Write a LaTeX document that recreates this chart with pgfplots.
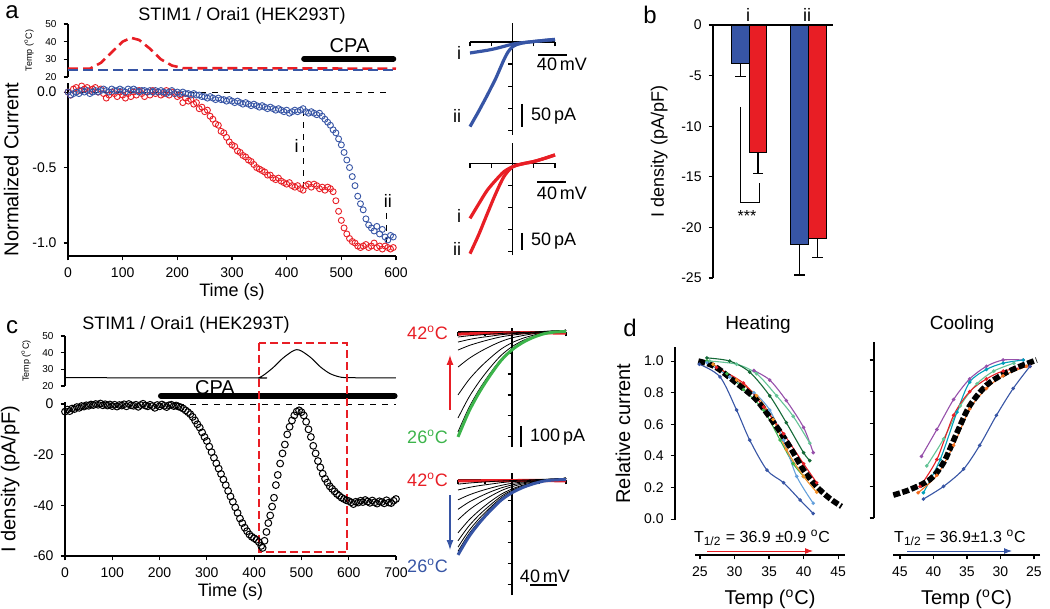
\documentclass[border=0pt]{standalone}
\usepackage{fontspec}
\setmainfont{Liberation Sans}
\usepackage{pgfplots}
\pgfplotsset{compat=1.18}
\usetikzlibrary{arrows.meta}
\newcommand{\fs}[1]{\fontsize{#1}{#1}\selectfont}
\definecolor{rd}{RGB}{232,30,37}
\definecolor{bl}{RGB}{55,85,165}
\definecolor{gr}{RGB}{60,180,75}
\definecolor{dgreen}{RGB}{20,105,55}
\definecolor{purp}{RGB}{150,80,170}
\definecolor{aqua}{RGB}{100,195,150}
\definecolor{org}{RGB}{245,145,40}
\definecolor{lblue}{RGB}{100,160,220}
\definecolor{teal2}{RGB}{0,160,185}
\definecolor{org2}{RGB}{245,110,30}
\pgfplotsset{
 base/.style={scale only axis, enlargelimits=false, clip=false,
   axis line style={line width=0.6pt}, tick style={black, line width=0.55pt},
   major tick length=2.2pt, tick align=outside,
   tick label style={font=\fs{7}}, label style={font=\fs{9}},
   /pgf/number format/assume math mode=true},
 iv/.style={base, axis lines*=middle, xmin=-100, xmax=100, width=42.5pt,
   xtick={-100,-50,50,100}, xticklabels={}, yticklabels={}},
 tempax/.style={base, axis x line=none, axis y line*=left, ymin=20, ymax=50,
   ytick={20,30,40,50}, tick label style={font=\fs{5}},
   ylabel={Temp (\textsuperscript{o}C)}, ylabel style={font=\fs{4.5}}, ylabel shift=-1pt},
 hc/.style={smooth, line width=0.55pt, mark=*, mark size=0.6pt},
}
\begin{document}
\begin{tikzpicture}
\useasboundingbox (0,0) rectangle (525pt,-304.5pt);

% ---------------- panel a: temperature ----------------
\begin{axis}[tempax, at={(34pt,-38.5pt)}, anchor=south west, width=164pt, height=26.5pt,
  xmin=0, xmax=600]
\addplot[rd, line width=1.3pt, dash pattern=on 5pt off 2.5pt] coordinates {
 (0,24.7)(40,24.7)(60,28)(80,34)(100,40)(115,42.2)(130,41)(150,36)(170,30)(190,26.5)(210,25)(600,24.7)};
\addplot[bl, line width=1.3pt, dash pattern=on 5pt off 2.5pt] coordinates {(0,23.9)(600,23.9)};
\draw[line width=3pt, line cap=round] (axis cs:432,30.3) -- (axis cs:595,30.3);
\node[font=\fs{10}] at (axis cs:515,38) {CPA};
\end{axis}

% ---------------- panel a: normalized current ----------------
\begin{axis}[base, at={(34pt,-128pt)}, anchor=south west, width=164pt, height=86.5pt,
  xmin=0, xmax=600, ymin=-1.086, ymax=0.06, axis lines*=left,
  xtick={0,100,...,600}, ytick={-1,-0.5,0}, yticklabels={-1.0,-0.5,0.0},
  xlabel={Time (s)}, ylabel={Normalized Current}, xlabel shift=-4pt, ylabel style={font=\fs{10}}]
\draw[dashed, line width=0.5pt] (axis cs:0,0) -- (axis cs:590,0);
\addplot[rd, only marks, mark=o, mark size=1.5pt, mark options={line width=0.45pt}] coordinates {
(0,0.00)(5,-0.02)(10,0.02)(15,0.03)(20,0.01)(25,0.04)(30,0.02)(35,0.03)(40,0.01)(45,0.02)(50,0.03)(55,0.00)(60,0.02)(65,-0.01)(70,-0.04)(75,-0.02)(80,0.00)(85,-0.01)(90,-0.03)(95,0.00)(100,-0.02)(105,-0.04)(110,-0.01)(115,-0.03)(120,0.00)(125,-0.02)(130,0.01)(135,-0.01)(140,-0.03)(145,0.00)(150,-0.02)(155,0.01)(160,-0.01)(165,0.00)(170,-0.02)(175,-0.01)(180,0.01)(185,-0.02)(190,0.00)(195,-0.01)(200,-0.03)(205,-0.02)(210,-0.07)(215,-0.04)(220,-0.06)(225,-0.05)(230,-0.08)(235,-0.07)(240,-0.11)(245,-0.10)(250,-0.13)(255,-0.12)(260,-0.16)(265,-0.18)(270,-0.21)(275,-0.22)(280,-0.26)(285,-0.27)(290,-0.30)(295,-0.33)(300,-0.35)(305,-0.36)(310,-0.39)(315,-0.40)(320,-0.42)(325,-0.43)(330,-0.45)(335,-0.46)(340,-0.48)(345,-0.50)(350,-0.51)(355,-0.52)(360,-0.53)(365,-0.55)(370,-0.55)(375,-0.57)(380,-0.58)(385,-0.57)(390,-0.59)(395,-0.60)(400,-0.61)(405,-0.60)(410,-0.62)(415,-0.63)(420,-0.62)(425,-0.64)(430,-0.65)(435,-0.62)(440,-0.61)(445,-0.63)(450,-0.61)(455,-0.62)(460,-0.64)(465,-0.63)(470,-0.65)(475,-0.63)(480,-0.64)(485,-0.66)(490,-0.72)(495,-0.79)(500,-0.85)(505,-0.90)(510,-0.94)(515,-0.97)(520,-0.99)(525,-1.00)(530,-1.02)(535,-1.03)(540,-1.02)(545,-1.01)(550,-1.03)(555,-1.02)(560,-1.00)(565,-1.03)(570,-1.02)(575,-1.04)(580,-1.02)(585,-1.03)(590,-1.04)(595,-1.03)};
\addplot[bl, only marks, mark=o, mark size=1.5pt, mark options={line width=0.45pt}] coordinates {
(0,0.00)(5,-0.02)(10,-0.01)(15,0.00)(20,-0.01)(25,0.01)(30,0.00)(35,0.01)(40,-0.01)(45,0.00)(50,0.01)(55,0.00)(60,0.01)(65,0.02)(70,0.01)(75,0.00)(80,0.02)(85,0.01)(90,0.01)(95,0.02)(100,0.01)(105,0.00)(110,0.02)(115,0.01)(120,0.02)(125,0.01)(130,0.00)(135,0.01)(140,0.01)(145,0.00)(150,0.01)(155,0.00)(160,0.01)(165,0.00)(170,0.01)(175,0.00)(180,-0.01)(185,0.00)(190,0.01)(195,-0.01)(200,0.00)(205,-0.01)(210,0.00)(215,-0.01)(220,-0.01)(225,-0.02)(230,-0.01)(235,-0.02)(240,-0.02)(245,-0.03)(250,-0.03)(255,-0.04)(260,-0.03)(265,-0.04)(270,-0.05)(275,-0.04)(280,-0.05)(285,-0.05)(290,-0.06)(295,-0.05)(300,-0.06)(305,-0.07)(310,-0.06)(315,-0.07)(320,-0.08)(325,-0.07)(330,-0.08)(335,-0.09)(340,-0.08)(345,-0.09)(350,-0.10)(355,-0.09)(360,-0.10)(365,-0.11)(370,-0.10)(375,-0.11)(380,-0.12)(385,-0.11)(390,-0.12)(395,-0.13)(400,-0.12)(405,-0.14)(410,-0.13)(415,-0.12)(420,-0.13)(425,-0.12)(430,-0.11)(435,-0.13)(440,-0.14)(445,-0.13)(450,-0.14)(455,-0.15)(460,-0.14)(465,-0.16)(470,-0.18)(475,-0.20)(480,-0.22)(485,-0.25)(490,-0.27)(495,-0.31)(500,-0.35)(505,-0.40)(510,-0.45)(515,-0.50)(520,-0.56)(525,-0.62)(530,-0.69)(535,-0.74)(540,-0.78)(545,-0.84)(550,-0.88)(555,-0.90)(560,-0.92)(565,-0.89)(570,-0.94)(575,-0.91)(580,-0.96)(585,-0.98)(590,-0.95)(595,-0.96)};
\draw[dashed, line width=0.5pt] (axis cs:431,-0.12) -- (axis cs:431,-0.67);
\draw[dashed, line width=0.5pt] (axis cs:583,-0.80) -- (axis cs:583,-1.02);
\node[font=\fs{9}] at (axis cs:418,-0.36) {i};
\node[font=\fs{9}] at (axis cs:585,-0.72) {ii};
\end{axis}

% ---------------- panel a: I-V insets ----------------
\begin{axis}[iv, at={(235pt,-67.5pt)}, anchor=south west, height=56pt, ymin=-211, ymax=43,
  ytick={-50,-100,-150,-200}]
\addplot[bl, line width=1.6pt, smooth] coordinates {(-100,-25)(-80,-22)(-60,-19)(-40,-15)(-20,-10)(0,-5)(20,-2)(40,0)(60,2)(80,4)(100,6)};
\addplot[bl, line width=1.6pt, smooth] coordinates {(-100,-192)(-90,-175)(-80,-158)(-70,-140)(-60,-122)(-50,-103)(-40,-84)(-30,-62)(-20,-40)(-10,-22)(0,-11)(10,-6)(20,-3)(40,0)(60,2)(80,4)(100,5)};
\end{axis}
\begin{axis}[iv, at={(235pt,-127.5pt)}, anchor=south west, height=56pt, ymin=-208, ymax=46,
  ytick={-50,-100,-150,-200}]
\addplot[rd, line width=1.6pt, smooth] coordinates {(-100,-125)(-80,-93)(-60,-62)(-40,-39)(-20,-19)(0,-8)(20,-2)(50,4)(75,11)(100,19)};
\addplot[rd, line width=1.6pt, smooth] coordinates {(-100,-205)(-80,-163)(-60,-116)(-40,-70)(-20,-30)(0,-8)(20,-2)(50,4)(75,11)(100,19)};
\end{axis}

% ---------------- panel b ----------------
\begin{axis}[base, at={(356.5pt,-139pt)}, anchor=south west, width=60pt, height=126.5pt,
  xmin=0, xmax=120, ymin=-25, ymax=0, axis x line*=top, axis y line*=left, xtick=\empty,
  ytick={-25,-20,-15,-10,-5,0}, yticklabels={-25,-20,-15,-10,-5,0},
  ylabel={I density (pA/pF)}]
\addplot[ybar, bar width=17.5, bar shift=0pt, fill=bl, draw=black, line width=0.7pt,
  error bars/.cd, y dir=minus, y explicit, error bar style={line width=0.7pt, black},
  error mark options={rotate=90, mark size=2.6pt, line width=0.7pt, black}]
  coordinates {(27.5,-3.8) +- (0,1.3) (86.5,-21.7) +- (0,3.0)};
\addplot[ybar, bar width=17.5, bar shift=0pt, fill=rd, draw=black, line width=0.7pt,
  error bars/.cd, y dir=minus, y explicit, error bar style={line width=0.7pt, black},
  error mark options={rotate=90, mark size=2.6pt, line width=0.7pt, black}]
  coordinates {(45,-12.6) +- (0,2.1) (104.5,-21.1) +- (0,1.9)};
\draw[line width=0.5pt] (axis cs:27,-8.1) -- (axis cs:27,-17.5) -- (axis cs:46,-17.5) -- (axis cs:46,-15.6);
\node[font=\fs{8}] at (axis cs:34,-18.9) {***};
\node[font=\fs{9}] at (axis cs:35,1.0) {i};
\node[font=\fs{9}] at (axis cs:94,1.0) {ii};
\end{axis}

% ---------------- panel c: temperature ----------------
\begin{axis}[tempax, at={(32.5pt,-193pt)}, anchor=south west, width=165.5pt, height=25pt,
  xmin=0, xmax=700]
\addplot[black, line width=0.5pt, smooth] coordinates {
 (0,25)(400,24.8)(410,25)(420,26.5)(440,31)(460,36.5)(480,40.7)(490,41.8)(500,41)(520,37)(540,31.5)(560,27.5)(580,25.5)(600,25)(700,24.8)};
\end{axis}

% ---------------- panel c: current density ----------------
\begin{axis}[base, at={(32.5pt,-278pt)}, anchor=south west, width=165.5pt, height=77pt,
  xmin=0, xmax=700, ymin=-60, ymax=0.8, axis lines*=left,
  xtick={0,100,...,700}, ytick={-60,-40,-20,0},
  xlabel={Time (s)}, ylabel={I density (pA/pF)}, xlabel shift=-4pt, ylabel style={font=\fs{10}}]
\draw[line width=3pt, line cap=round] (axis cs:203,3.2) -- (axis cs:697,3.2);
\draw[dashed, line width=0.5pt] (axis cs:240,0) -- (axis cs:700,0);
\addplot[black, only marks, mark=o, mark size=1.7pt, mark options={line width=0.5pt}] coordinates {
(0,-3.0)(5,-2.2)(10,-2.8)(15,-1.8)(20,-2.0)(25,-1.2)(30,-1.5)(35,-0.8)(40,-1.0)(45,-0.5)(50,-0.7)(55,-0.2)(60,-0.4)(65,0.0)(70,-0.3)(75,0.2)(80,-0.5)(85,-0.1)(90,-0.6)(95,-0.2)(100,-0.8)(105,-0.3)(110,-1.0)(115,-0.4)(120,-0.6)(125,-0.1)(130,-0.9)(135,0.0)(140,-0.5)(145,-0.7)(150,-0.3)(155,-1.1)(160,-0.4)(165,0.1)(170,-0.6)(175,-0.9)(180,-0.3)(185,-0.8)(190,-1.5)(195,-0.4)(200,-0.9)(205,-0.2)(210,-0.7)(215,-1.2)(220,-0.5)(225,-0.3)(230,-0.8)(235,-0.6)(240,-1.0)(245,-1.3)(250,-1.8)(255,-2.5)(260,-3.2)(265,-4.0)(270,-5.1)(275,-6.5)(280,-8.0)(285,-9.3)(290,-11.2)(295,-13.0)(300,-14.6)(305,-16.8)(310,-19.0)(315,-21.2)(320,-23.4)(325,-25.5)(330,-27.6)(335,-29.8)(340,-32.0)(345,-34.3)(350,-36.5)(355,-38.6)(360,-40.8)(365,-43.0)(370,-45.2)(375,-47.0)(380,-48.8)(385,-50.2)(390,-51.5)(395,-52.4)(400,-53.0)(405,-53.6)(410,-54.5)(415,-56.0)(418,-56.8)(422,-54.0)(426,-50.5)(430,-47.0)(434,-44.0)(438,-40.5)(442,-37.0)(446,-32.0)(450,-28.0)(455,-23.5)(460,-19.5)(465,-16.0)(470,-12.0)(475,-9.0)(480,-6.5)(485,-4.5)(490,-3.0)(495,-2.5)(500,-3.2)(505,-4.5)(510,-7.0)(515,-10.0)(520,-13.0)(525,-16.5)(530,-19.5)(535,-22.5)(540,-25.0)(545,-27.5)(550,-29.5)(555,-31.0)(560,-32.5)(565,-33.5)(570,-34.5)(575,-35.5)(580,-36.2)(585,-37.0)(590,-37.5)(595,-38.0)(600,-38.3)(605,-38.8)(610,-39.5)(615,-38.6)(620,-38.9)(625,-38.2)(630,-38.7)(635,-37.9)(640,-38.5)(645,-39.0)(650,-38.1)(655,-38.8)(660,-39.3)(665,-38.4)(670,-38.7)(675,-39.2)(680,-38.0)(685,-38.9)(690,-39.1)(695,-38.2)(700,-37.5)};
\draw[rd, line width=1.1pt, dash pattern=on 4pt off 2pt] (axis cs:410,24.1) rectangle (axis cs:597,-58.5);
\end{axis}

% ---------------- panel c: I-V families ----------------
\begin{axis}[iv, at={(229pt,-223.5pt)}, anchor=south west, width=54pt, height=59.5pt,
  ymin=-548, ymax=19, ytick={-100,-200,-300,-400,-500}]
\addplot[rd, line width=1.5pt] coordinates {(-100,-10)(-60,-7)(-20,-5)(0,-4)(40,-3)(80,-5)(100,-6)};
\addplot[black, line width=0.4pt, smooth] coordinates {(-100,-24)(-80,-18)(-60,-14)(-40,-10)(-20,-7)(0,-4)(20,-2)(40,0)(60,3)(80,5)(100,8)};
\addplot[black, line width=0.4pt, smooth] coordinates {(-100,-48)(-80,-36)(-60,-27)(-40,-20)(-20,-13)(0,-8)(20,-5)(40,-1)(60,2)(80,5)(100,8)};
\addplot[black, line width=0.4pt, smooth] coordinates {(-100,-86)(-80,-65)(-60,-49)(-40,-35)(-20,-23)(0,-15)(20,-9)(40,-4)(60,2)(80,5)(100,8)};
\addplot[black, line width=0.4pt, smooth] coordinates {(-100,-167)(-80,-127)(-60,-95)(-40,-68)(-20,-45)(0,-28)(20,-17)(40,-8)(60,0)(80,4)(100,8)};
\addplot[black, line width=0.4pt, smooth] coordinates {(-100,-300)(-80,-228)(-60,-171)(-40,-123)(-20,-81)(0,-51)(20,-30)(40,-15)(60,-3)(80,3)(100,8)};
\addplot[black, line width=0.4pt, smooth] coordinates {(-100,-410)(-80,-312)(-60,-234)(-40,-168)(-20,-111)(0,-70)(20,-41)(40,-21)(60,-6)(80,2)(100,8)};
\addplot[black, line width=0.4pt, smooth] coordinates {(-100,-476)(-80,-362)(-60,-271)(-40,-195)(-20,-129)(0,-81)(20,-48)(40,-24)(60,-7)(80,2)(100,8)};
\addplot[gr, line width=1.5pt, smooth] coordinates {(-100,-500)(-80,-380)(-60,-285)(-40,-205)(-20,-135)(0,-85)(20,-50)(40,-25)(60,-8)(80,0)(100,2)};
\end{axis}
\begin{axis}[iv, at={(229pt,-297.5pt)}, anchor=south west, width=54pt, height=61pt,
  ymin=-548, ymax=33, ytick={-100,-200,-300,-400,-500}]
\addplot[rd, line width=1.5pt] coordinates {(-100,-5)(-60,-4)(-20,-3)(0,-3)(40,-2)(80,-4)(100,-5)};
\addplot[black, line width=0.4pt, smooth] coordinates {(-100,-20)(-80,-15)(-60,-11)(-40,-8)(-20,-5)(0,-3)(20,-1)(40,1)(60,3)(80,5)(100,8)};
\addplot[black, line width=0.4pt, smooth] coordinates {(-100,-48)(-80,-36)(-60,-27)(-40,-20)(-20,-13)(0,-8)(20,-5)(40,-1)(60,2)(80,5)(100,8)};
\addplot[black, line width=0.4pt, smooth] coordinates {(-100,-95)(-80,-72)(-60,-54)(-40,-39)(-20,-26)(0,-16)(20,-10)(40,-5)(60,1)(80,4)(100,8)};
\addplot[black, line width=0.4pt, smooth] coordinates {(-100,-140)(-80,-106)(-60,-80)(-40,-57)(-20,-38)(0,-24)(20,-14)(40,-7)(60,0)(80,4)(100,8)};
\addplot[black, line width=0.4pt, smooth] coordinates {(-100,-190)(-80,-144)(-60,-108)(-40,-78)(-20,-51)(0,-32)(20,-19)(40,-10)(60,-2)(80,3)(100,8)};
\addplot[black, line width=0.4pt, smooth] coordinates {(-100,-252)(-80,-192)(-60,-144)(-40,-103)(-20,-68)(0,-43)(20,-25)(40,-13)(60,-3)(80,3)(100,8)};
\addplot[black, line width=0.4pt, smooth] coordinates {(-100,-290)(-80,-220)(-60,-165)(-40,-119)(-20,-78)(0,-49)(20,-29)(40,-15)(60,-4)(80,2)(100,8)};
\addplot[black, line width=0.4pt, smooth] coordinates {(-100,-320)(-80,-243)(-60,-182)(-40,-131)(-20,-86)(0,-54)(20,-32)(40,-16)(60,-5)(80,2)(100,8)};
\addplot[black, line width=0.4pt, smooth] coordinates {(-100,-340)(-80,-258)(-60,-194)(-40,-139)(-20,-92)(0,-58)(20,-34)(40,-17)(60,-5)(80,2)(100,8)};
\addplot[bl, line width=1.5pt, smooth] coordinates {(-100,-357)(-80,-271)(-60,-203)(-40,-146)(-20,-96)(0,-61)(20,-36)(40,-18)(60,-5)(80,0)(100,2)};
\end{axis}

% ---------------- panel d: heating ----------------
\begin{axis}[base, at={(337.5pt,-260pt)}, anchor=south west, width=85pt, height=86.5pt,
  xmin=21.38, xmax=46.0, ymin=-0.006, ymax=1.089, axis x line=none, axis y line*=left,
  ytick={0,0.2,0.4,0.6,0.8,1.0}, yticklabels={0.0,0.2,0.4,0.6,0.8,1.0},
  ylabel={Relative current}, ylabel style={font=\fs{10}}]
\addplot[hc, purp] coordinates {(32.8,0.94)(35.1,0.88)(37.5,0.75)(40.0,0.58)(41.4,0.42)};
\addplot[hc, aqua] coordinates {(26.4,1.0)(30.3,0.98)(33.2,0.92)(36.1,0.78)(38.5,0.65)(40.9,0.48)};
\addplot[hc, dgreen] coordinates {(26.0,1.02)(29.3,1.0)(32.2,0.93)(35.1,0.78)(37.5,0.61)(40.0,0.42)(40.9,0.37)};
\addplot[hc, gr] coordinates {(26.0,1.0)(28.9,0.92)(31.3,0.82)(34.2,0.69)(36.6,0.50)(38.5,0.35)(40.0,0.27)};
\addplot[hc, lblue] coordinates {(26.0,0.99)(29.3,0.90)(32.8,0.80)(35.1,0.69)(37.1,0.50)(39.0,0.27)(41.4,0.10)};
\addplot[hc, org] coordinates {(26.9,0.98)(30.3,0.88)(33.2,0.78)(35.6,0.63)(37.5,0.44)(40.0,0.27)(41.9,0.17)};
\addplot[hc, rd] coordinates {(27.4,0.96)(31.3,0.86)(34.2,0.71)(37.1,0.54)(40.0,0.35)(41.9,0.23)};
\addplot[hc, bl] coordinates {(24.9,0.98)(27.9,0.90)(30.3,0.69)(32.2,0.50)(34.7,0.31)(37.1,0.23)(39.5,0.12)(41.4,0.035)};
\addplot[black, smooth, line width=2.8pt, dash pattern=on 3.5pt off 1.2pt] coordinates {
 (24.76,1.0)(27.2,0.964)(30.3,0.86)(33.2,0.753)(36.1,0.584)(38.0,0.458)(40.0,0.31)(41.9,0.205)(43.8,0.13)(45.5,0.08)};
\end{axis}
\begin{axis}[base, at={(347.5pt,-277.5pt)}, anchor=south west, width=75pt, height=1pt,
  xmin=24.28, xmax=46.0, ymin=0, ymax=1, axis y line=none, axis x line*=bottom,
  xtick={25,30,35,40,45}, xlabel={Temp (\textsuperscript{o}C)}, xlabel style={font=\fs{10}}]
\end{axis}

% ---------------- panel d: cooling ----------------
\begin{axis}[base, at={(437pt,-259pt)}, anchor=south west, width=83pt, height=88pt,
  xmin=24.1, xmax=48.88, x dir=reverse, ymin=0, ymax=1.114, axis x line=none, axis y line*=left,
  ytick={0,0.2,0.4,0.6,0.8,1.0}, yticklabels={}]
\addplot[hc, purp] coordinates {(41.8,0.39)(39.5,0.56)(37.0,0.75)(34.6,0.88)(32.1,0.96)(29.6,1.0)(26.6,1.0)};
\addplot[hc, aqua] coordinates {(41.0,0.33)(38.5,0.50)(36.0,0.71)(33.5,0.85)(31.0,0.93)(28.0,0.98)};
\addplot[hc, teal2] coordinates {(41.5,0.16)(39.0,0.37)(36.5,0.67)(34.6,0.86)(32.1,0.94)(29.6,0.98)(26.6,1.0)};
\addplot[hc, rd] coordinates {(42.0,0.20)(39.5,0.37)(37.0,0.65)(34.6,0.80)(32.1,0.88)(29.6,0.93)(25.6,0.96)};
\addplot[hc, org2] coordinates {(42.3,0.16)(39.5,0.27)(37.0,0.46)(34.6,0.69)(32.1,0.82)(29.6,0.90)(26.1,0.96)};
\addplot[hc, bl] coordinates {(41.5,0.12)(38.5,0.20)(35.5,0.31)(33.1,0.46)(30.6,0.65)(28.1,0.82)(25.6,0.96)};
\addplot[black, smooth, line width=2.8pt, dash pattern=on 3.5pt off 1.2pt] coordinates {
 (46.0,0.145)(43.5,0.18)(40.5,0.245)(38.5,0.35)(36.5,0.54)(34.6,0.71)(32.1,0.84)(29.6,0.91)(27.1,0.96)(24.6,1.0)};
\end{axis}
\begin{axis}[base, at={(446.5pt,-277.5pt)}, anchor=south west, width=73.5pt, height=1pt,
  xmin=24.1, xmax=46.04, x dir=reverse, ymin=0, ymax=1, axis y line=none, axis x line*=bottom,
  xtick={25,30,35,40,45}, xlabel={Temp (\textsuperscript{o}C)}, xlabel style={font=\fs{10}}]
\end{axis}

% ---------------- free annotations (pixel coordinates) ----------------
\begin{scope}[x=0.5pt, y=-0.5pt]
\node[font=\fs{12}] at (12,12) {a};
\node[font=\fs{12}] at (650,15) {b};
\node[font=\fs{12}] at (12,327) {c};
\node[font=\fs{12}] at (630,328) {d};
\node[font=\fs{9}] at (242,16) {STIM1 / Orai1 (HEK293T)};
\node[font=\fs{9}] at (186,325) {STIM1 / Orai1 (HEK293T)};
\node[font=\fs{10}] at (215,388) {CPA};
% panel a insets
\node[font=\fs{9}] at (459,53) {i};
\node[font=\fs{9}] at (457,116) {ii};
\node[font=\fs{9}] at (459,216) {i};
\node[font=\fs{9}] at (457,249) {ii};
\draw[line width=0.6pt] (538,55) -- (567,55);
\node[font=\fs{9}] at (562,64) {40\,mV};
\draw[line width=0.6pt] (537,182) -- (566,182);
\node[font=\fs{9}] at (562,193) {40\,mV};
\draw[line width=0.6pt] (522,104) -- (522,127);
\node[font=\fs{9}, anchor=west] at (524,116) {50\,pA};
\draw[line width=0.6pt] (522,233) -- (522,250);
\node[font=\fs{9}, anchor=west] at (524,241) {50\,pA};
% panel c insets
\node[font=\fs{9}, text=rd, anchor=east] at (455,333) {42\textsuperscript{o}C};
\node[font=\fs{9}, text=gr, anchor=east] at (455,437) {26\textsuperscript{o}C};
\node[font=\fs{9}, text=rd, anchor=east] at (455,480) {42\textsuperscript{o}C};
\node[font=\fs{9}, text=bl, anchor=east] at (455,566) {26\textsuperscript{o}C};
\draw[rd, line width=0.6pt, -{Latex[length=5pt,width=3.5pt]}] (450,410) -- (450,355);
\draw[bl, line width=0.6pt, -{Latex[length=5pt,width=3.5pt]}] (450,495) -- (450,550);
\draw[line width=0.6pt] (521,426) -- (521,447);
\node[font=\fs{9}, anchor=west] at (523,437) {100\,pA};
\draw[line width=0.6pt] (530,585) -- (557,585);
\node[font=\fs{9}] at (545,576) {40\,mV};
% panel d
\node[font=\fs{9.5}] at (758,325) {Heating};
\node[font=\fs{9.5}] at (962,325) {Cooling};
\node[font=\fs{8}] at (762,538) {T\textsubscript{1/2} = 36.9 ±0.9 \textsuperscript{o}C};
\node[font=\fs{8}] at (960,538) {T\textsubscript{1/2} = 36.9±1.3 \textsuperscript{o}C};
\draw[rd, line width=0.5pt, -{Latex[length=4pt,width=3pt]}] (707,551) -- (813,551);
\draw[bl, line width=0.5pt, -{Latex[length=4pt,width=3pt]}] (907,551) -- (1012,551);
\end{scope}
\end{tikzpicture}
\end{document}
